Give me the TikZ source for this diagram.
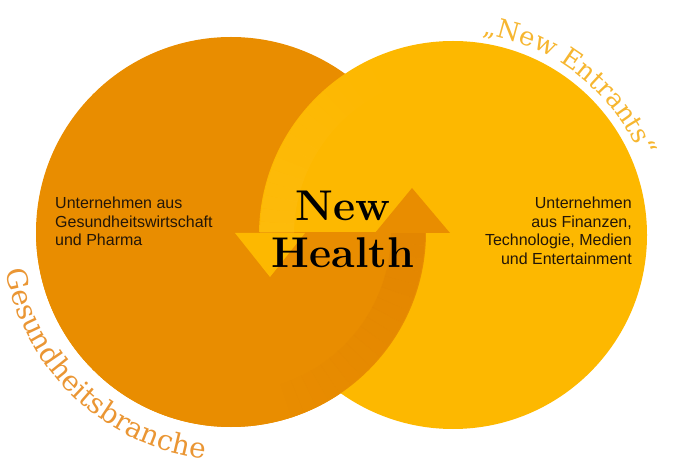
\documentclass[tikz,border=0pt]{standalone}
\usepackage{fontspec}
\newfontfamily\blurbfont{Liberation Sans}
\newfontfamily\rimfont{DejaVu Serif}
\usetikzlibrary{positioning, decorations.text, calc}
\definecolor{pharma}{RGB}{233,141,0}
\definecolor{pharmadeep}{RGB}{222,128,0}
\definecolor{entrant}{RGB}{253,184,0}
\definecolor{entrantpale}{RGB}{255,194,36}
\definecolor{pharmalabel}{RGB}{234,150,52}
\definecolor{entrantlabel}{RGB}{246,182,48}
\definecolor{ink}{RGB}{35,22,8}
\begin{document}
\begin{tikzpicture}[x=1pt,y=1pt]
	\tikzset{
		blurb/.style={font=\blurbfont\fontsize{16}{18.5}\selectfont, text=ink, inner sep=0pt},
		headline/.style={font=\bfseries\fontsize{43}{47}\selectfont, text=black, align=center, inner sep=0pt},
		rimtext/.style n args={3}{decorate, decoration={text along path, text align=center, text color=#1, text={|\rimfont\fontsize{#2}{#2}\selectfont|#3}}}
	}
	\useasboundingbox (0,0) rectangle (674,466);
	\coordinate (cL) at (231,234);
	\coordinate (cR) at (453,231);
	\fill[pharma] (cL) circle (195);
	\fill[entrant] (cR) circle (194);
	\begin{scope}
		\clip (0,0) rectangle (674,233);
		\fill[pharma] (cL) circle (195);
		\foreach \a [evaluate=\a as \o using {0.5*(1+\a/72)}] in {0,-4,...,-68} {
			\draw[pharmadeep, line width=34, opacity=\o] ($(cL)+(\a:177)$) arc[start angle=\a, end angle=\a-4, radius=177];
		}
	\end{scope}
	\begin{scope}
		\clip (0,233) rectangle (674,466);
		\foreach \a [evaluate=\a as \o using {0.3*(\a-112)/68}] in {180,176,...,116} {
			\draw[entrantpale, line width=34, opacity=\o] ($(cR)+(\a:176)$) arc[start angle=\a, end angle=\a-4, radius=176];
		}
	\end{scope}
	\fill[entrant] (235,233) -- (305,233) -- (270,189) -- cycle;
	\fill[pharma] (375,233) -- (450,233) -- (412,278) -- cycle;
	\node[headline] (newhealth) at (343,237) {New\\Health};
	\node[blurb, anchor=north west, align=left] (pharmatext) at (55,269) {Unternehmen aus\\Gesundheitswirtschaft\\und Pharma};
	\node[blurb, anchor=north east, align=right] (techtext) at (632,269) {Unternehmen\\aus Finanzen,\\Technologie, Medien\\und Entertainment};
	\path[rimtext={pharmalabel}{28}{Gesundheitsbranche}] ($(cL)+(185:228)$) arc[start angle=185, end angle=268, radius=228];
	\path[rimtext={entrantlabel}{26}{„New Entrants“}] ($(cR)+(85:203)$) arc[start angle=85, end angle=19, radius=203];
\end{tikzpicture}
\end{document}
